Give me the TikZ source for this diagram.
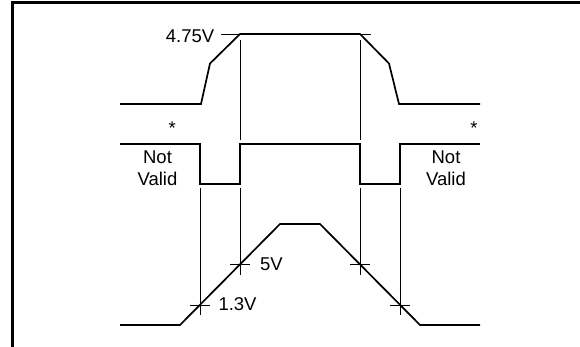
\documentclass[tikz,border=0pt]{standalone}
\usepackage{fontspec}
\setmainfont{Liberation Sans}
\begin{document}
\begin{tikzpicture}[x=1pt,y=-1pt,
  frame/.style={line width=2.2pt},
  wave/.style={line width=1.7pt, line join=miter},
  guide/.style={line width=0.6pt},
  lbl/.style={inner sep=0pt, font=\fontsize{18.5}{22}\selectfont}]
\useasboundingbox (0,0) rectangle (580,347);
% frame
\draw[frame] (12.5,347) -- (12.5,2.5) -- (580,2.5);
% top waveform (supply)
\draw[guide] (221,34) -- (371,34);
\draw[wave] (120,104) -- (201,104) -- (210,63.5) -- (240,34) -- (360,34) -- (389,63.5) -- (399,104) -- (480,104);
\node[lbl, anchor=base west] (v475) at (165.7,42.3) {4.75V};
% middle waveform
\draw[wave] (120,144) -- (200,144) -- (200,184) -- (240,184) -- (240,144) -- (360,144) -- (360,184) -- (400,184) -- (400,144) -- (480,144);
\node[lbl, anchor=base] (starL) at (172.3,135) {*};
\node[lbl, anchor=base] (starR) at (474,135) {*};
\node[lbl, anchor=north, align=center] (nvL) at (157.5,150.7) {Not\\Valid};
\node[lbl, anchor=north, align=center] (nvR) at (446,150.7) {Not\\Valid};
% bottom waveform
\draw[wave] (120,325) -- (180,325) -- (280,224) -- (320,224) -- (420,325) -- (480,325);
% guide lines
\draw[guide] (240,40) -- (240,140);
\draw[guide] (360,40) -- (360,140);
\draw[guide] (200,188) -- (200,315);
\draw[guide] (400,188) -- (400,315);
\draw[guide] (240,188) -- (240,275);
\draw[guide] (360,188) -- (360,275);
% crossing ticks
\draw[guide] (190,304.8) -- (210,304.8);
\draw[guide] (230,264.4) -- (250,264.4);
\draw[guide] (350,264.4) -- (370,264.4);
\draw[guide] (390,304.8) -- (410,304.8);
\node[lbl, anchor=base west] (v5) at (260,270.7) {5V};
\node[lbl, anchor=base west] (v13) at (218.3,310.7) {1.3V};
\end{tikzpicture}
\end{document}
